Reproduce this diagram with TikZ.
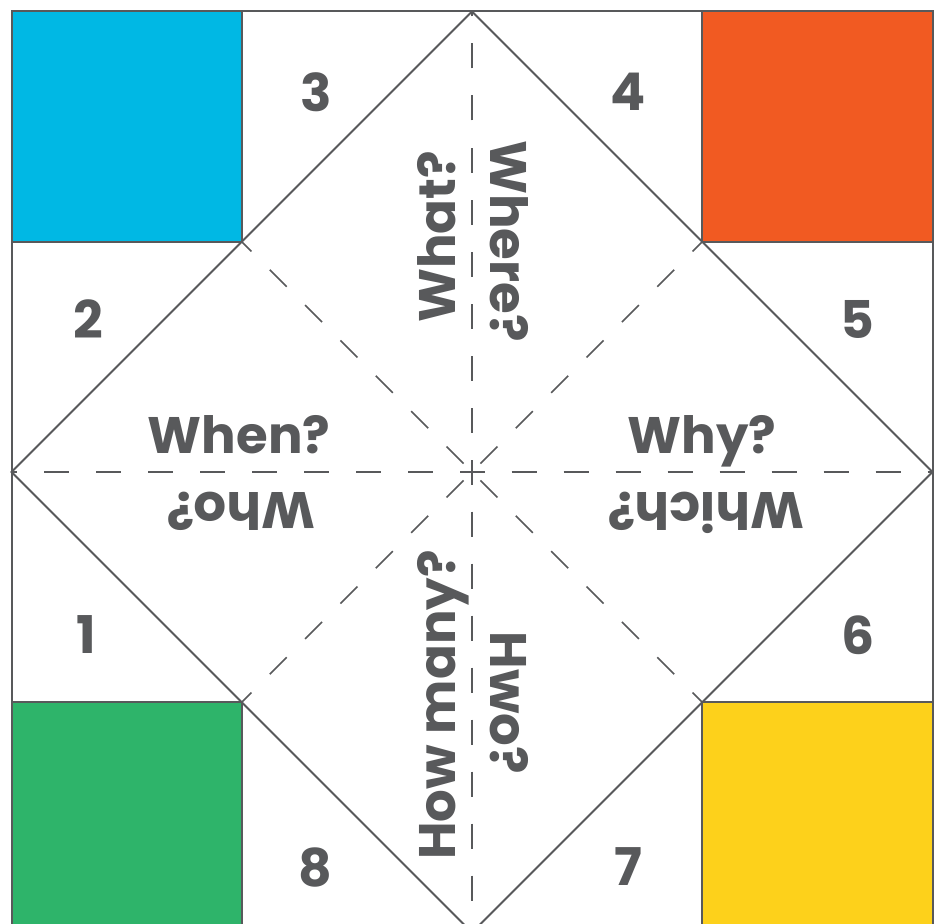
\documentclass[tikz,border=0pt]{standalone}
\usepackage{fontspec}
\setmainfont{Poppins}
\definecolor{ink}{HTML}{58595B}
\definecolor{cblue}{HTML}{00B8E4}
\definecolor{corange}{HTML}{F15A22}
\definecolor{cgreen}{HTML}{2EB46A}
\definecolor{cyellow}{HTML}{FDD11B}
\tikzset{
  edge/.style={draw=ink, line width=1.5pt},
  dashhv/.style={draw=ink, line width=1.3pt, dash pattern=on 18.75pt off 20.25pt, dash phase=9.375pt},
  dashdiag/.style={draw=ink, line width=1.3pt, dash pattern=on 18pt off 19.5pt, dash phase=28.5pt},
  lab/.style={text=ink, font=\bfseries\fontsize{38.5}{46}\selectfont, inner sep=0pt, anchor=base},
  num/.style={text=ink, font=\bfseries\fontsize{39}{46}\selectfont, inner sep=0pt, anchor=center}
}
\begin{document}
\begin{tikzpicture}[x=0.75pt,y=-0.75pt]
\useasboundingbox (0,0) rectangle (936,924);
\clip (0,0) rectangle (936,924);
\fill[white] (0,0) rectangle (936,924);
\coordinate (C) at (472,472);
\coordinate (T) at (472,11.5);
\coordinate (R) at (932.5,472);
\coordinate (B) at (472,932.5);
\coordinate (L) at (11.5,472);
\coordinate (TL) at (242,242);
\coordinate (TR) at (702,242);
\coordinate (BL) at (242,702);
\coordinate (BR) at (702,702);
\coordinate (oTL) at (11.5,11.5);
\coordinate (oTR) at (932.5,11.5);
\coordinate (oBL) at (11.5,932.5);
\coordinate (oBR) at (932.5,932.5);
% coloured corner squares
\fill[cblue] (oTL) rectangle (TL);
\fill[corange] (oTR) rectangle (TR);
\fill[cgreen] (oBL) rectangle (BL);
\fill[cyellow] (oBR) rectangle (BR);
% dashed folds
\draw[dashhv] (C) -- (T);
\draw[dashhv] (C) -- (R);
\draw[dashhv] (C) -- (B);
\draw[dashhv] (C) -- (L);
\draw[dashdiag] (C) -- (TL);
\draw[dashdiag] (C) -- (TR);
\draw[dashdiag] (C) -- (BL);
\draw[dashdiag] (C) -- (BR);
% solid lines
\draw[edge] (oTL) rectangle (TL);
\draw[edge] (oTR) rectangle (TR);
\draw[edge] (oBL) rectangle (BL);
\draw[edge] (oBR) rectangle (BR);
\draw[edge] (T) -- (R) -- (B) -- (L) -- cycle;
\draw[edge] (oTL) rectangle (oBR);
% numbers
\node[num] (n3) at (316,92) {3};
\node[num] (n4) at (628,92) {4};
\node[num] (n2) at (88,319) {2};
\node[num] (n5) at (857,319) {5};
\node[num] (n1) at (86,635) {1};
\node[num] (n6) at (858,635) {6};
\node[num] (n8) at (315,867) {8};
\node[num] (n7) at (628,867) {7};
% questions
\node[lab] (when) at (239,453) {When?};
\node[lab, rotate=180] (who) at (241,492) {Who?};
\node[lab] (why) at (702,453) {Why?};
\node[lab, rotate=180] (which) at (706,492) {Which?};
\node[lab, rotate=90] (what) at (455,237) {What?};
\node[lab, rotate=-90] (where) at (490,241) {Where?};
\node[lab, rotate=90] (howmany) at (455,705) {How many?};
\node[lab, rotate=-90] (hwo) at (490,703) {Hwo?};
\end{tikzpicture}
\end{document}
